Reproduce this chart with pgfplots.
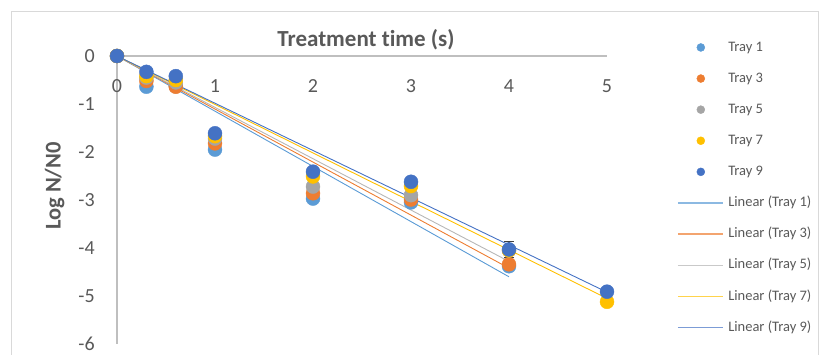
\documentclass[border=0pt]{standalone}
\usepackage{fontspec}
\setmainfont{Carlito}[Ligatures=NoCommon]
\usepackage{pgfplots}
\pgfplotsset{compat=1.18}
\definecolor{t1}{HTML}{5B9BD5}
\definecolor{t3}{HTML}{ED7D31}
\definecolor{t5}{HTML}{A5A5A5}
\definecolor{t7}{HTML}{FFC000}
\definecolor{t9}{HTML}{4472C4}
\definecolor{txt}{HTML}{595959}
\definecolor{axgray}{HTML}{BFBFBF}
\definecolor{framegray}{HTML}{D9D9D9}
\definecolor{errgray}{HTML}{404040}
\begin{document}
\begin{tikzpicture}
\draw[framegray, line width=1pt] (11pt,-12pt) rectangle (818.5pt,-370pt);
\begin{axis}[
  at={(117pt,-56pt)}, anchor=north west,
  scale only axis, width=490pt, height=288pt,
  xmin=0, xmax=5, ymin=-6, ymax=0,
  clip=false,
  axis lines=middle,
  axis line style={-, draw=axgray, line width=1.1pt},
  hide obscured x ticks=false, hide obscured y ticks=false,
  xtick={0,1,2,3,4,5}, xticklabels={0,1,2,3,4,5},
  ytick={-6,-5,-4,-3,-2,-1,0}, yticklabels={-6,-5,-4,-3,-2,-1,0},
  tick style={draw=none},
  ticklabel style={font=\fontsize{20}{24}\selectfont, text=txt},
  xticklabel style={anchor=base, inner sep=0pt, yshift=-34pt},
  yticklabel style={anchor=east, inner sep=0pt, xshift=-20pt},
  xlabel={Treatment time (s)}, ylabel={Log N/N0},
  every axis x label/.style={at={(axis description cs:0.508,1.03125)}, anchor=base,
     font=\bfseries\fontsize{23}{27}\selectfont, text=txt},
  every axis y label/.style={at={(axis description cs:-0.1149,0.5486)}, anchor=base, rotate=90,
     font=\bfseries\fontsize{22.5}{26}\selectfont, text=txt},
  legend style={at={(axis description cs:1.1429,1.0538)}, anchor=north west,
     draw=none, fill=none, inner sep=0pt, row sep=17.6pt, column sep=0pt,
     font=\fontsize{14.5}{17}\selectfont, text=txt,
     nodes={inner sep=0pt, text height=10.5pt, text depth=3pt}},
  legend cell align=left,
]
\addplot[only marks, mark=*, mark size=7pt, color=t1,
  legend image code/.code={\path (0pt,0pt) (50pt,0pt); \fill[t1] (23pt,0pt) circle (4pt);}]
  coordinates {(0,0) (0.3,-0.64) (0.6,-0.63) (1,-1.95) (2,-2.97) (3,-3.05) (4,-4.38)};
\addlegendentry{Tray 1}
\addplot[only marks, mark=*, mark size=7pt, color=t3,
  legend image code/.code={\path (0pt,0pt) (50pt,0pt); \fill[t3] (23pt,0pt) circle (4pt);}]
  coordinates {(0,0) (0.3,-0.52) (0.6,-0.64) (1,-1.82) (2,-2.86) (3,-2.99) (4,-4.34)};
\addlegendentry{Tray 3}
\addplot[only marks, mark=*, mark size=7pt, color=t5,
  legend image code/.code={\path (0pt,0pt) (50pt,0pt); \fill[t5] (23pt,0pt) circle (4pt);}]
  coordinates {(0,0) (0.3,-0.45) (0.6,-0.55) (1,-1.72) (2,-2.72) (3,-2.90) (4,-4.05)};
\addlegendentry{Tray 5}
\addplot[only marks, mark=*, mark size=7pt, color=t7,
  legend image code/.code={\path (0pt,0pt) (50pt,0pt); \fill[t7] (23pt,0pt) circle (4pt);}]
  coordinates {(0,0) (0.3,-0.42) (0.6,-0.50) (1,-1.67) (2,-2.51) (3,-2.71) (4,-4.05) (5,-5.12)};
\addlegendentry{Tray 7}
\addplot[draw=none, forget plot, mark=none,
  error bars/.cd, y dir=both, y explicit,
  error bar style={errgray, line width=1.2pt},
  error mark options={errgray, rotate=90, mark size=5pt, line width=1.2pt}]
  coordinates {(4,-4.03) +- (0,0.16)};
\addplot[only marks, mark=*, mark size=7pt, color=t9,
  legend image code/.code={\path (0pt,0pt) (50pt,0pt); \fill[t9] (23pt,0pt) circle (4pt);}]
  coordinates {(0,0) (0.3,-0.33) (0.6,-0.42) (1,-1.61) (2,-2.41) (3,-2.62) (4,-4.03) (5,-4.91)};
\addlegendentry{Tray 9}
\addplot[t1, line width=0.9pt,
  legend image code/.code={\draw[t1!70, line width=1.2pt] (0pt,0pt) -- (45pt,0pt); \path (50pt,0pt);}]
  coordinates {(0,0) (4,-4.60)};
\addlegendentry{Linear (Tray 1)}
\addplot[t3, line width=0.9pt,
  legend image code/.code={\draw[t3!70, line width=1.2pt] (0pt,0pt) -- (45pt,0pt); \path (50pt,0pt);}]
  coordinates {(0,0) (4,-4.42)};
\addlegendentry{Linear (Tray 3)}
\addplot[t5!80, line width=0.9pt,
  legend image code/.code={\draw[t5!60, line width=1.2pt] (0pt,0pt) -- (45pt,0pt); \path (50pt,0pt);}]
  coordinates {(0,0) (4,-4.28)};
\addlegendentry{Linear (Tray 5)}
\addplot[t7, line width=0.9pt,
  legend image code/.code={\draw[t7!70, line width=1.2pt] (0pt,0pt) -- (45pt,0pt); \path (50pt,0pt);}]
  coordinates {(0,0) (5,-5.05)};
\addlegendentry{Linear (Tray 7)}
\addplot[t9, line width=0.9pt,
  legend image code/.code={\draw[t9!70, line width=1.2pt] (0pt,0pt) -- (45pt,0pt); \path (50pt,0pt);}]
  coordinates {(0,0) (5,-4.92)};
\addlegendentry{Linear (Tray 9)}
\end{axis}
\pgfresetboundingbox
\path[use as bounding box] (0pt,0pt) rectangle (820pt,-355pt);
\end{tikzpicture}
\end{document}
